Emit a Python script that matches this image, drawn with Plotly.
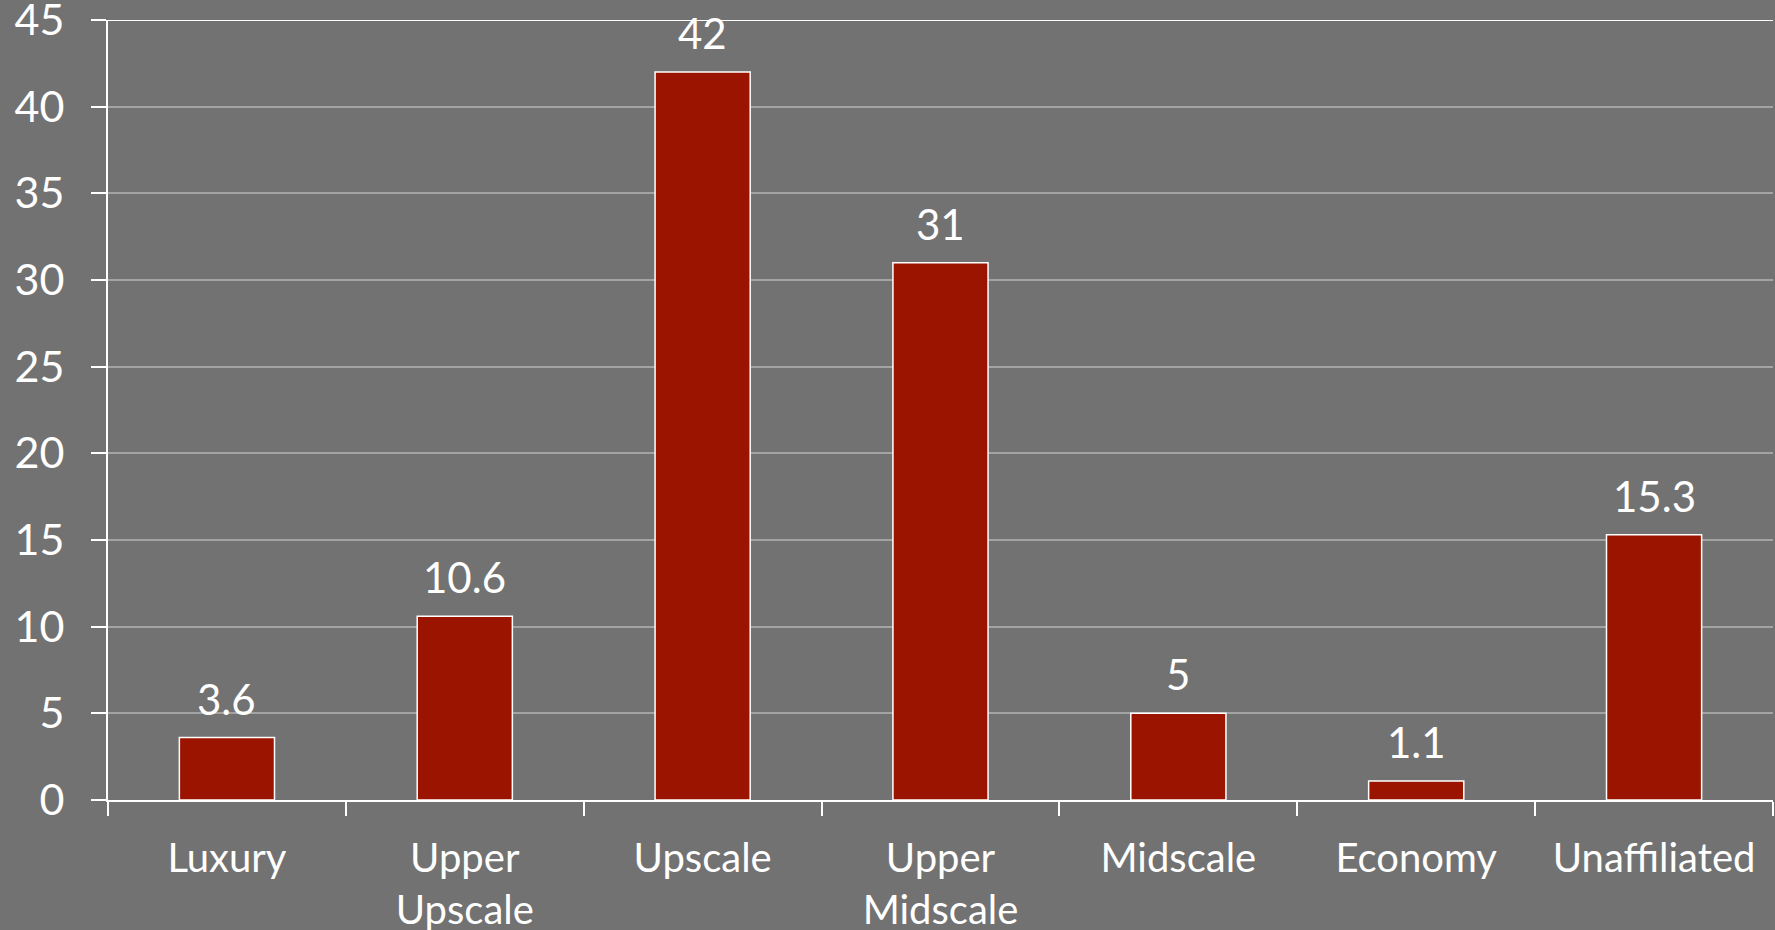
import plotly.graph_objects as go

# Share of properties by chain scale
categories = ["Luxury", "Upper<br>Upscale", "Upscale", "Upper<br>Midscale", "Midscale", "Economy", "Unaffiliated"]
values = [3.6, 10.6, 42, 31, 5, 1.1, 15.3]
value_labels = ["3.6", "10.6", "42", "31", "5", "1.1", "15.3"]
y_ticks = [0, 5, 10, 15, 20, 25, 30, 35, 40, 45]

BG = "#727272"
BAR = "#9B1400"
GRID = "#A3A3A3"
FONT = "Lato"

fig = go.Figure()
fig.add_trace(go.Bar(
    x=categories,
    y=values,
    marker=dict(color=BAR, line=dict(color="white", width=1.5)),
    hoverinfo="skip",
))

# value labels above each bar
for c, v, t in zip(categories, values, value_labels):
    fig.add_annotation(
        x=c, y=v, text=t, showarrow=False,
        yanchor="middle", yshift=39,
        font=dict(family=FONT, size=42, color="white"),
    )

# bright top border line
fig.add_shape(type="line", xref="paper", yref="y", x0=0, x1=1, y0=45, y1=45,
              line=dict(color="white", width=2))

fig.update_layout(
    width=1775, height=930,
    margin=dict(l=108, r=2, t=20, b=130),
    paper_bgcolor=BG, plot_bgcolor=BG,
    bargap=0.6,
    showlegend=False,
    font=dict(family=FONT, size=40, color="white"),
    xaxis=dict(
        showline=True, linecolor="white", linewidth=2,
        ticks="outside", tickson="boundaries", ticklen=14, tickcolor="white", tickwidth=2,
        showgrid=False,
        tickfont=dict(family=FONT, size=40, color="white"),
        ticklabelstandoff=22,
        automargin=False,
    ),
    yaxis=dict(
        range=[0, 45], tickvals=y_ticks,
        showline=True, linecolor="white", linewidth=2,
        ticks="outside", ticklen=15, tickcolor="white", tickwidth=2,
        showgrid=True, gridcolor=GRID, gridwidth=2,
        zeroline=False,
        tickfont=dict(family=FONT, size=43, color="white"),
        ticklabelstandoff=18,
        ticklabeloverflow="allow",
        automargin=False,
    ),
)

fig.write_html("out.html")
